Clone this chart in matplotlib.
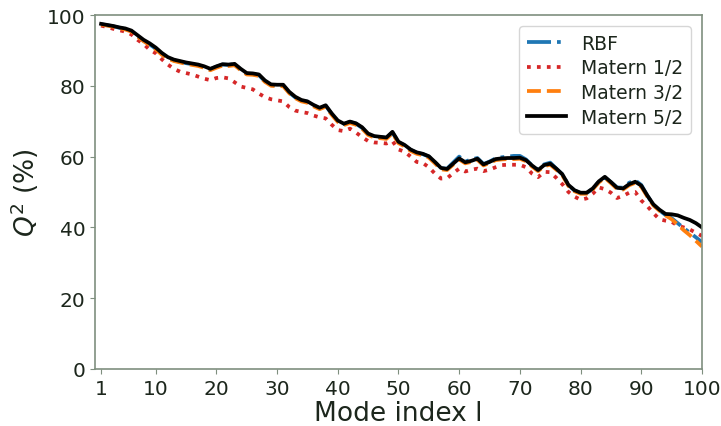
import numpy as np
import matplotlib.pyplot as plt

# Mode index
modes = np.arange(1, 101)

# Q^2 (%) per kernel
q2_m52 = [97.5, 97.2, 96.9, 96.5, 96.2, 95.6, 94.3, 93.0, 92.0, 90.8,
          89.3, 88.1, 87.4, 87.0, 86.6, 86.3, 86.0, 85.5, 84.8, 85.5,
          86.1, 86.0, 86.2, 84.8, 83.6, 83.5, 83.2, 81.5, 80.4, 80.3,
          80.3, 78.3, 76.9, 76.0, 75.6, 74.6, 73.8, 74.5, 72.2, 70.2,
          69.3, 69.9, 69.4, 68.3, 66.5, 65.8, 65.6, 65.4, 67.0, 64.2,
          63.3, 62.0, 61.2, 60.8, 60.1, 58.5, 56.8, 56.5, 58.0, 59.5,
          58.4, 58.8, 59.4, 57.8, 58.5, 59.3, 59.5, 59.6, 59.6, 59.7,
          59.0, 57.5, 56.2, 57.6, 58.0, 56.6, 55.0, 52.0, 50.5, 49.8,
          49.8, 51.0, 53.0, 54.3, 52.8, 51.2, 51.0, 52.2, 52.9, 51.8,
          49.0, 46.5, 45.0, 43.8, 43.7, 43.4, 42.7, 42.1, 41.2, 40.0]

q2_rbf = [97.4, 97.1, 96.8, 96.4, 96.0, 95.4, 94.0, 92.7, 91.7, 90.5,
          89.0, 87.9, 87.2, 86.8, 86.4, 86.1, 85.8, 85.3, 84.7, 85.4,
          86.0, 85.9, 86.1, 84.6, 83.4, 83.3, 83.0, 81.3, 80.2, 80.1,
          80.1, 78.1, 76.7, 75.8, 75.5, 74.5, 73.6, 74.4, 72.0, 70.0,
          69.2, 69.8, 69.3, 68.1, 66.3, 65.6, 65.5, 65.3, 66.8, 64.0,
          63.2, 61.9, 61.1, 60.7, 60.0, 58.4, 56.7, 56.6, 58.3, 60.0,
          58.6, 59.2, 59.6, 57.9, 58.6, 59.5, 59.8, 60.0, 60.2, 60.2,
          59.2, 57.5, 56.3, 57.8, 58.3, 56.6, 55.0, 52.0, 50.4, 49.7,
          49.7, 50.9, 52.9, 54.1, 52.8, 51.3, 51.2, 52.6, 53.3, 52.0,
          49.0, 46.3, 44.8, 43.5, 42.6, 41.2, 39.8, 38.5, 37.2, 35.8]

q2_m12 = [97.0, 96.6, 96.1, 95.7, 95.3, 94.5, 93.0, 91.8, 90.2, 89.2,
          87.5, 86.0, 84.8, 84.0, 83.6, 83.2, 82.6, 82.0, 81.6, 82.2,
          82.4, 82.1, 81.0, 79.8, 79.4, 79.0, 77.8, 76.8, 76.2, 75.9,
          75.6, 74.0, 73.0, 72.6, 72.3, 71.6, 71.1, 70.8, 69.0, 67.5,
          67.2, 67.9, 66.8, 65.5, 64.4, 64.0, 63.9, 63.7, 64.4, 62.0,
          61.4, 60.0, 58.5, 58.2, 57.0, 55.2, 53.8, 53.9, 55.3, 56.6,
          55.8, 56.3, 56.6, 55.9, 56.3, 57.0, 57.6, 57.7, 57.7, 57.7,
          57.0, 55.2, 54.2, 55.7, 55.6, 54.0, 52.2, 50.0, 48.7, 47.8,
          48.2, 49.5, 51.3, 50.8, 49.8, 48.3, 48.9, 49.8, 50.0, 47.6,
          46.0, 44.0, 42.3, 41.9, 41.6, 40.5, 40.0, 39.4, 38.5, 37.6]

q2_m32 = [97.3, 97.0, 96.7, 96.3, 95.9, 95.3, 93.9, 92.6, 91.5, 90.3,
          88.8, 87.7, 87.0, 86.6, 86.2, 85.9, 85.6, 85.1, 84.4, 85.1,
          85.7, 85.6, 85.8, 84.4, 83.2, 83.1, 82.8, 81.1, 80.0, 79.9,
          79.9, 77.9, 76.5, 75.6, 75.2, 74.2, 73.4, 74.1, 71.8, 69.8,
          68.9, 69.5, 69.0, 67.9, 66.1, 65.4, 65.2, 65.0, 66.6, 63.8,
          62.9, 61.6, 60.8, 60.4, 59.7, 58.1, 56.4, 56.2, 57.7, 59.2,
          58.1, 58.5, 59.1, 57.5, 58.2, 59.0, 59.2, 59.3, 59.3, 59.4,
          58.7, 57.2, 55.9, 57.3, 57.7, 56.3, 54.7, 51.7, 50.2, 49.5,
          49.5, 50.7, 52.7, 54.0, 52.5, 50.9, 50.7, 51.9, 52.6, 51.5,
          48.7, 46.2, 44.7, 43.4, 42.3, 40.8, 39.2, 37.8, 36.2, 34.6]

text_col = '#1c261c'
spine_col = '#7f8f7f'

fig = plt.figure(figsize=(7.21, 4.27), dpi=100)
ax = fig.add_axes([0.1318, 0.1335, 0.8418, 0.829])

ax.plot(modes, q2_rbf, color='tab:blue', ls='-.', lw=2.7, label='RBF')
ax.plot(modes, q2_m12, color='tab:red', ls=':', lw=2.7, label='Matern 1/2')
ax.plot(modes, q2_m32, color='tab:orange', ls='--', lw=2.7, label='Matern 3/2')
ax.plot(modes, q2_m52, color='black', ls='-', lw=2.7, label='Matern 5/2')

ax.set_xlim(0, 100)
ax.set_ylim(0, 100)
ax.set_xticks([1, 10, 20, 30, 40, 50, 60, 70, 80, 90, 100])
ax.set_yticks([0, 20, 40, 60, 80, 100])
ax.tick_params(labelsize=14.5, colors=text_col, color=spine_col)
for s in ax.spines.values():
    s.set_color(spine_col)
    s.set_linewidth(1.2)

ax.set_xlabel('Mode index l', fontsize=19, color=text_col, labelpad=2)
ax.set_ylabel(r'$Q^2$ (%)', fontsize=19, color=text_col)

leg = ax.legend(loc='upper right', fontsize=13.5, labelspacing=0.3,
                handlelength=2.1, borderaxespad=0.6)
for t in leg.get_texts():
    t.set_color(text_col)

fig.savefig('out.png', dpi=100)
